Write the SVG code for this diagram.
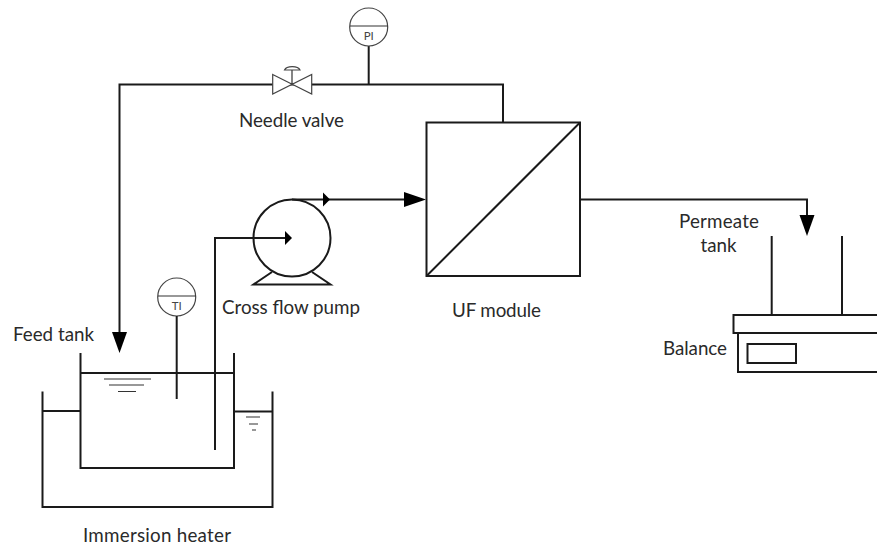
<svg xmlns="http://www.w3.org/2000/svg" width="877" height="546" viewBox="0 0 877 546">
<style>
.l{fill:none;stroke:#1a1a1a;stroke-width:2}
.t{fill:none;stroke:#333;stroke-width:1.200}
.w{fill:none;stroke:#333;stroke-width:1.200}
.s{fill:#fff;stroke:#444;stroke-width:1.200}
.h{fill:#000;stroke:none}
text{font-family:Lato,"Liberation Sans",sans-serif;font-size:18.800px;fill:#2a2a2a}
.i{font-size:11.500px;fill:#444;text-anchor:middle}
</style>
<rect width="877" height="546" fill="#fff"/>
<g id="connectors">
<path class="l" d="M503 122V84.500H119.500V335"/>
<polygon class="h" points="112,332 127,332 119.500,353"/>
<path class="l" d="M368.700 46V84.500"/>
<path class="l" d="M215 450V238H288"/>
<polygon class="h" points="285,231 285,245 292,238"/>
<path class="l" d="M292 199.500H406"/>
<polygon class="h" points="323,192.500 323,206.500 330,199.500"/>
<polygon class="h" points="404,192 404,207 426,199.500"/>
<path class="l" d="M580 199.500H807V218"/>
<polygon class="h" points="799.500,215 814.500,215 807,236"/>
</g>
<g id="pi"><circle class="s" cx="368.700" cy="27" r="19"/><path class="t" d="M350 26H388"/><text class="i" x="368.700" y="40">PI</text></g>
<g id="needle-valve">
<path class="s" d="M272.700 74.500L311.700 94V74.500L272.700 94Z"/>
<path class="t" d="M292 84V70"/>
<path class="s" d="M284.500 70A8 4.500 0 0 1 300 70Z"/>
<text x="239" y="127" textLength="105">Needle valve</text>
</g>
<g id="uf-module">
<rect class="l" x="426.500" y="122.500" width="153.500" height="153.500"/>
<path class="l" d="M426.500 276L580 122.500"/>
<text x="452" y="317" textLength="89">UF module</text>
</g>
<g id="pump">
<circle class="l" cx="292" cy="238" r="38.500"/>
<path class="l" d="M272 272L253.500 284.500H330.500L312 272"/>
<text x="222" y="314" textLength="138">Cross flow pump</text>
</g>
<g id="ti"><circle class="s" cx="176.700" cy="297" r="19"/><path class="t" d="M158 296H196"/><text class="i" x="176.700" y="310">TI</text></g>
<g id="feed-tank">
<path class="l" d="M80.500 353V468H234V353"/>
<path class="l" d="M80.500 373H234"/>
<path class="l" d="M176.700 316V399"/>
<path class="w" d="M104 379H151M109 385H144M118 391.500H136"/>
<text x="13" y="341" textLength="81">Feed tank</text>
</g>
<g id="immersion-heater">
<path class="l" d="M42.500 391.500V507H272.500V391.500"/>
<path class="l" d="M42.500 411H80.500M234 411.500H272.500"/>
<path class="w" d="M246 417H260M249 424H258M252 430H256"/>
<text x="83" y="542" textLength="148">Immersion heater</text>
</g>
<g id="permeate-tank">
<path class="l" d="M771.700 236V315M842 236V315"/>
<text x="679" y="228" textLength="80">Permeate</text>
<text x="700.500" y="252" textLength="36">tank</text>
</g>
<g id="balance">
<path class="l" d="M877 315H733.500V333H877M738 333V372H877"/>
<rect class="l" x="747.500" y="344" width="48.500" height="19"/>
<text x="663" y="355" textLength="64">Balance</text>
</g>
</svg>
